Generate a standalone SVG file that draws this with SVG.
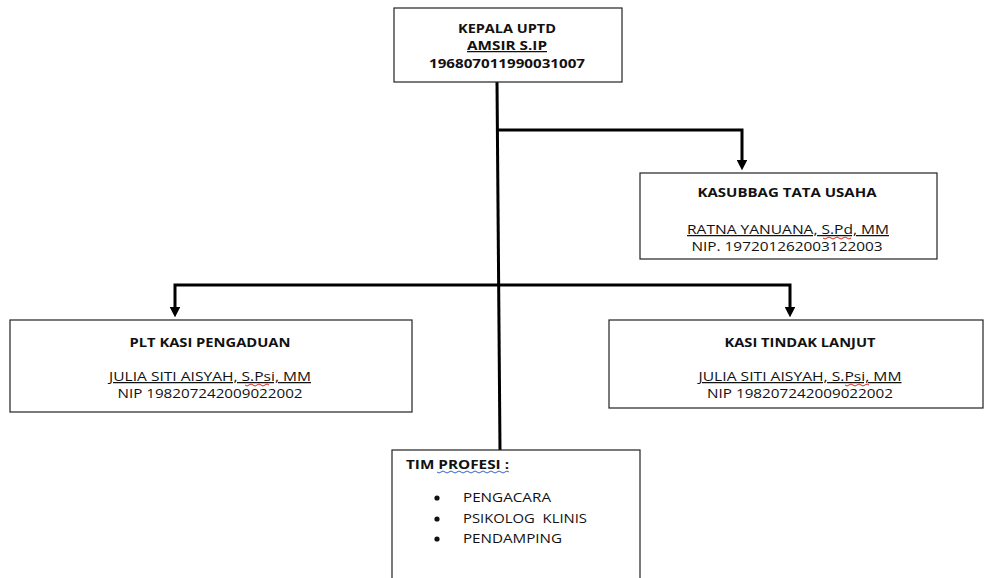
<svg xmlns="http://www.w3.org/2000/svg" width="984" height="578" viewBox="0 0 984 578">
<defs>
<style>
.box{fill:#fff;stroke:#222;stroke-width:1.2}
.t{font-family:"Open Sans","Liberation Sans",sans-serif;font-size:12.5px;fill:#111}
.b{font-weight:bold}
.c{text-anchor:middle}
.u{text-decoration:underline}
.con{fill:none;stroke:#000;stroke-width:3}
.sq{fill:none;stroke:#d22;stroke-width:1}
.sqb{fill:none;stroke:#36c;stroke-width:1}
</style>
<marker id="ah" markerWidth="3.6" markerHeight="3.6" refX="2" refY="2" orient="auto-start-reverse" markerUnits="strokeWidth" viewBox="0 0 4 4"><path d="M0,0 L4,2 L0,4 z" fill="#000"/></marker>
</defs>
<rect width="984" height="578" fill="#fff"/>
<g id="connectors">
<path class="con" d="M497,82 L500,450"/>
<path class="con" d="M498,130 L742,130 L742,165" marker-end="url(#ah)"/>
<path class="con" d="M175,312 L175,285 L790,285 L790,312" marker-start="url(#ah)" marker-end="url(#ah)"/>
</g>
<g id="kepala">
<rect class="box" x="394" y="8" width="228" height="74"/>
<text class="t b c" x="507" y="33" textLength="98" lengthAdjust="spacingAndGlyphs">KEPALA UPTD</text>
<text class="t b c u" x="507" y="50" textLength="80" lengthAdjust="spacingAndGlyphs">AMSIR S.IP</text>
<text class="t b c" x="507" y="68" textLength="156" lengthAdjust="spacingAndGlyphs">196807011990031007</text>
</g>
<g id="kasubbag">
<rect class="box" x="640" y="173" width="297" height="86"/>
<text class="t b c" x="787" y="197" textLength="179" lengthAdjust="spacingAndGlyphs">KASUBBAG TATA USAHA</text>
<text class="t c u" x="788" y="234" textLength="202" lengthAdjust="spacingAndGlyphs">RATNA YANUANA, S.Pd, MM</text>
<path class="sq" d="M823,238 q2,2 4,0 t4,0 t4,0 t4,0 t4,0 t4,0 t4,0"/>
<text class="t c" x="787" y="251" textLength="191" lengthAdjust="spacingAndGlyphs">NIP. 197201262003122003</text>
</g>
<g id="pengaduan">
<rect class="box" x="10" y="320" width="402" height="92"/>
<text class="t b c" x="210" y="347" textLength="161" lengthAdjust="spacingAndGlyphs">PLT KASI PENGADUAN</text>
<text class="t c u" x="210" y="381" textLength="202" lengthAdjust="spacingAndGlyphs">JULIA SITI AISYAH, S.Psi, MM</text>
<path class="sq" d="M245,385 q2,2 4,0 t4,0 t4,0 t4,0 t4,0 t4,0"/>
<text class="t c" x="210" y="398" textLength="185" lengthAdjust="spacingAndGlyphs">NIP 198207242009022002</text>
</g>
<g id="tindaklanjut">
<rect class="box" x="609" y="320" width="374" height="88"/>
<text class="t b c" x="800" y="347" textLength="151" lengthAdjust="spacingAndGlyphs">KASI TINDAK LANJUT</text>
<text class="t c u" x="800" y="381" textLength="203" lengthAdjust="spacingAndGlyphs">JULIA SITI AISYAH, S.Psi, MM</text>
<path class="sq" d="M845,385 q2,2 4,0 t4,0 t4,0 t4,0 t4,0 t4,0"/>
<text class="t c" x="800" y="398" textLength="186" lengthAdjust="spacingAndGlyphs">NIP 198207242009022002</text>
</g>
<g id="timprofesi">
<rect class="box" x="392" y="450" width="248" height="132"/>
<text class="t b" x="406" y="469" textLength="103" lengthAdjust="spacingAndGlyphs">TIM PROFESI :</text>
<path class="sqb" d="M437,472 q2,2 4,0 t4,0 t4,0 t4,0 t4,0 t4,0 t4,0 t4,0 t4,0 t4,0 t4,0 t4,0 t4,0 t4,0 t4,0 t4,0 t4,0 t4,0"/>
<circle cx="437" cy="498" r="2.6" fill="#111"/>
<circle cx="437" cy="519" r="2.6" fill="#111"/>
<circle cx="437" cy="539" r="2.6" fill="#111"/>
<text class="t" x="463" y="502" textLength="88" lengthAdjust="spacingAndGlyphs">PENGACARA</text>
<text class="t" x="463" y="523" textLength="124" lengthAdjust="spacingAndGlyphs" xml:space="preserve">PSIKOLOG  KLINIS</text>
<text class="t" x="463" y="543" textLength="99" lengthAdjust="spacingAndGlyphs">PENDAMPING</text>
</g>
</svg>
